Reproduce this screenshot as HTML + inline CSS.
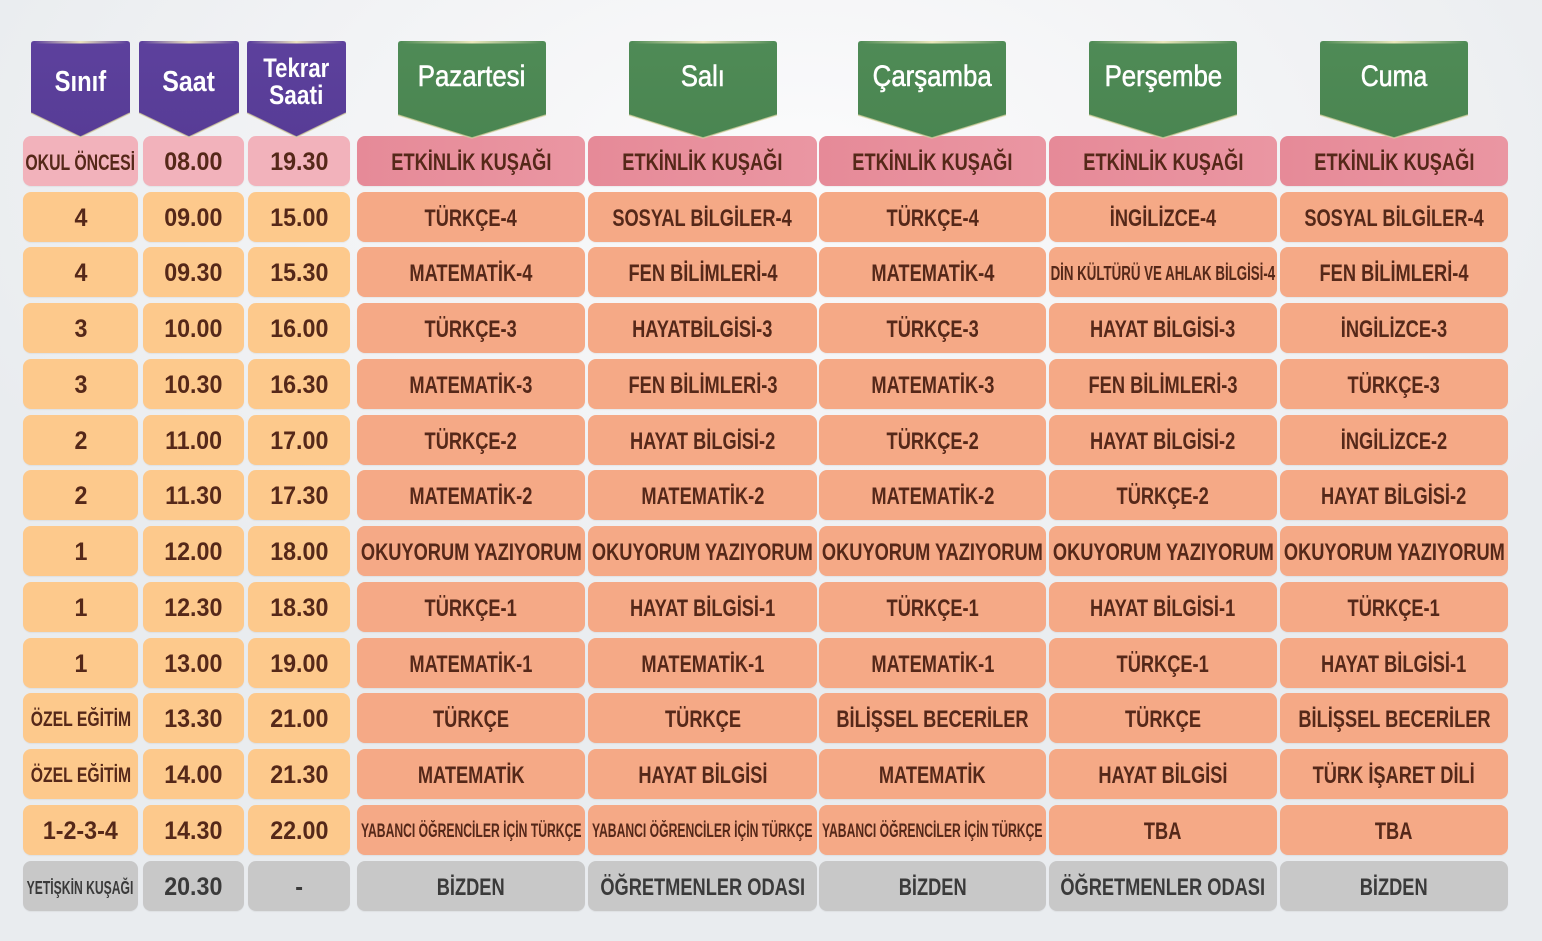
<!DOCTYPE html>
<html><head><meta charset="utf-8">
<style>
html,body{margin:0;padding:0;}
body{width:1542px;height:941px;position:relative;overflow:hidden;
background:radial-gradient(ellipse 900px 520px at 52% 18%,#fbfbfc 0%,#f2f3f5 55%,#e9ecef 100%);
font-family:"Liberation Sans",sans-serif;}
.r{position:absolute;left:0;width:1542px;height:50px;}
.r>div{position:absolute;top:0;height:50px;border-radius:8px;display:flex;align-items:center;justify-content:center;padding-top:3px;box-sizing:border-box;box-shadow:0 1px 1px rgba(0,0,0,.05);}
.c1{left:23px;width:115px}.c2{left:143px;width:101px}.c3{left:248px;width:102px}
.c4{left:357px;width:228px}.c5{left:588px;width:229px}.c6{left:819px;width:227px}
.c7{left:1049px;width:228px}.c8{left:1280px;width:228px}
.p .a{background:#f2b2bb}.p .d{background:linear-gradient(90deg,#e68a98,#ea96a2)}
.o .a{background:#fdc98c}.o .d{background:#f5a986}
.g .a,.g .d{background:#c8c8c8}
span{display:inline-block;white-space:nowrap;font-weight:bold;font-size:24px;line-height:24px;transform:scaleX(.76);color:#552819;}
.g span{color:#3a3a3a}
span.n{font-size:25px;line-height:25px;transform:scaleX(.93)}
span.ok{font-size:22px;line-height:22px;transform:scaleX(.72)}
span.oz{font-size:21px;line-height:21px;transform:scaleX(.75)}
span.ye{font-size:18px;line-height:18px;transform:scaleX(.675)}
span.din{font-size:20px;line-height:20px;transform:scaleX(.665)}
span.yb{font-size:19px;line-height:19px;transform:scaleX(.64)}
.h{position:absolute;color:#fff;text-align:center;}
.h b{display:inline-block;white-space:nowrap;}
</style></head><body>

<div class="r p" style="top:136px">
<div class="a c1"><span class="ok">OKUL ÖNCESİ</span></div>
<div class="a c2"><span class="n">08.00</span></div>
<div class="a c3"><span class="n">19.30</span></div>
<div class="d c4"><span>ETKİNLİK KUŞAĞI</span></div>
<div class="d c5"><span>ETKİNLİK KUŞAĞI</span></div>
<div class="d c6"><span>ETKİNLİK KUŞAĞI</span></div>
<div class="d c7"><span>ETKİNLİK KUŞAĞI</span></div>
<div class="d c8"><span>ETKİNLİK KUŞAĞI</span></div>
</div>

<div class="r o" style="top:192px">
<div class="a c1"><span class="n">4</span></div>
<div class="a c2"><span class="n">09.00</span></div>
<div class="a c3"><span class="n">15.00</span></div>
<div class="d c4"><span>TÜRKÇE-4</span></div>
<div class="d c5"><span>SOSYAL BİLGİLER-4</span></div>
<div class="d c6"><span>TÜRKÇE-4</span></div>
<div class="d c7"><span>İNGİLİZCE-4</span></div>
<div class="d c8"><span>SOSYAL BİLGİLER-4</span></div>
</div>

<div class="r o" style="top:247px">
<div class="a c1"><span class="n">4</span></div>
<div class="a c2"><span class="n">09.30</span></div>
<div class="a c3"><span class="n">15.30</span></div>
<div class="d c4"><span>MATEMATİK-4</span></div>
<div class="d c5"><span>FEN BİLİMLERİ-4</span></div>
<div class="d c6"><span>MATEMATİK-4</span></div>
<div class="d c7"><span class="din">DİN KÜLTÜRÜ VE AHLAK BİLGİSİ-4</span></div>
<div class="d c8"><span>FEN BİLİMLERİ-4</span></div>
</div>

<div class="r o" style="top:303px">
<div class="a c1"><span class="n">3</span></div>
<div class="a c2"><span class="n">10.00</span></div>
<div class="a c3"><span class="n">16.00</span></div>
<div class="d c4"><span>TÜRKÇE-3</span></div>
<div class="d c5"><span>HAYATBİLGİSİ-3</span></div>
<div class="d c6"><span>TÜRKÇE-3</span></div>
<div class="d c7"><span>HAYAT BİLGİSİ-3</span></div>
<div class="d c8"><span>İNGİLİZCE-3</span></div>
</div>

<div class="r o" style="top:359px">
<div class="a c1"><span class="n">3</span></div>
<div class="a c2"><span class="n">10.30</span></div>
<div class="a c3"><span class="n">16.30</span></div>
<div class="d c4"><span>MATEMATİK-3</span></div>
<div class="d c5"><span>FEN BİLİMLERİ-3</span></div>
<div class="d c6"><span>MATEMATİK-3</span></div>
<div class="d c7"><span>FEN BİLİMLERİ-3</span></div>
<div class="d c8"><span>TÜRKÇE-3</span></div>
</div>

<div class="r o" style="top:415px">
<div class="a c1"><span class="n">2</span></div>
<div class="a c2"><span class="n">11.00</span></div>
<div class="a c3"><span class="n">17.00</span></div>
<div class="d c4"><span>TÜRKÇE-2</span></div>
<div class="d c5"><span>HAYAT BİLGİSİ-2</span></div>
<div class="d c6"><span>TÜRKÇE-2</span></div>
<div class="d c7"><span>HAYAT BİLGİSİ-2</span></div>
<div class="d c8"><span>İNGİLİZCE-2</span></div>
</div>

<div class="r o" style="top:470px">
<div class="a c1"><span class="n">2</span></div>
<div class="a c2"><span class="n">11.30</span></div>
<div class="a c3"><span class="n">17.30</span></div>
<div class="d c4"><span>MATEMATİK-2</span></div>
<div class="d c5"><span>MATEMATİK-2</span></div>
<div class="d c6"><span>MATEMATİK-2</span></div>
<div class="d c7"><span>TÜRKÇE-2</span></div>
<div class="d c8"><span>HAYAT BİLGİSİ-2</span></div>
</div>

<div class="r o" style="top:526px">
<div class="a c1"><span class="n">1</span></div>
<div class="a c2"><span class="n">12.00</span></div>
<div class="a c3"><span class="n">18.00</span></div>
<div class="d c4"><span>OKUYORUM YAZIYORUM</span></div>
<div class="d c5"><span>OKUYORUM YAZIYORUM</span></div>
<div class="d c6"><span>OKUYORUM YAZIYORUM</span></div>
<div class="d c7"><span>OKUYORUM YAZIYORUM</span></div>
<div class="d c8"><span>OKUYORUM YAZIYORUM</span></div>
</div>

<div class="r o" style="top:582px">
<div class="a c1"><span class="n">1</span></div>
<div class="a c2"><span class="n">12.30</span></div>
<div class="a c3"><span class="n">18.30</span></div>
<div class="d c4"><span>TÜRKÇE-1</span></div>
<div class="d c5"><span>HAYAT BİLGİSİ-1</span></div>
<div class="d c6"><span>TÜRKÇE-1</span></div>
<div class="d c7"><span>HAYAT BİLGİSİ-1</span></div>
<div class="d c8"><span>TÜRKÇE-1</span></div>
</div>

<div class="r o" style="top:638px">
<div class="a c1"><span class="n">1</span></div>
<div class="a c2"><span class="n">13.00</span></div>
<div class="a c3"><span class="n">19.00</span></div>
<div class="d c4"><span>MATEMATİK-1</span></div>
<div class="d c5"><span>MATEMATİK-1</span></div>
<div class="d c6"><span>MATEMATİK-1</span></div>
<div class="d c7"><span>TÜRKÇE-1</span></div>
<div class="d c8"><span>HAYAT BİLGİSİ-1</span></div>
</div>

<div class="r o" style="top:693px">
<div class="a c1"><span class="oz">ÖZEL EĞİTİM</span></div>
<div class="a c2"><span class="n">13.30</span></div>
<div class="a c3"><span class="n">21.00</span></div>
<div class="d c4"><span>TÜRKÇE</span></div>
<div class="d c5"><span>TÜRKÇE</span></div>
<div class="d c6"><span>BİLİŞSEL BECERİLER</span></div>
<div class="d c7"><span>TÜRKÇE</span></div>
<div class="d c8"><span>BİLİŞSEL BECERİLER</span></div>
</div>

<div class="r o" style="top:749px">
<div class="a c1"><span class="oz">ÖZEL EĞİTİM</span></div>
<div class="a c2"><span class="n">14.00</span></div>
<div class="a c3"><span class="n">21.30</span></div>
<div class="d c4"><span>MATEMATİK</span></div>
<div class="d c5"><span>HAYAT BİLGİSİ</span></div>
<div class="d c6"><span>MATEMATİK</span></div>
<div class="d c7"><span>HAYAT BİLGİSİ</span></div>
<div class="d c8"><span>TÜRK İŞARET DİLİ</span></div>
</div>

<div class="r o" style="top:805px">
<div class="a c1"><span class="n">1-2-3-4</span></div>
<div class="a c2"><span class="n">14.30</span></div>
<div class="a c3"><span class="n">22.00</span></div>
<div class="d c4"><span class="yb">YABANCI ÖĞRENCİLER İÇİN TÜRKÇE</span></div>
<div class="d c5"><span class="yb">YABANCI ÖĞRENCİLER İÇİN TÜRKÇE</span></div>
<div class="d c6"><span class="yb">YABANCI ÖĞRENCİLER İÇİN TÜRKÇE</span></div>
<div class="d c7"><span>TBA</span></div>
<div class="d c8"><span>TBA</span></div>
</div>

<div class="r g" style="top:861px">
<div class="a c1"><span class="ye">YETİŞKİN KUŞAĞI</span></div>
<div class="a c2"><span class="n">20.30</span></div>
<div class="a c3"><span class="n">-</span></div>
<div class="d c4"><span>BİZDEN</span></div>
<div class="d c5"><span>ÖĞRETMENLER ODASI</span></div>
<div class="d c6"><span>BİZDEN</span></div>
<div class="d c7"><span>ÖĞRETMENLER ODASI</span></div>
<div class="d c8"><span>BİZDEN</span></div>
</div>

<svg width="1542" height="941" style="position:absolute;left:0;top:0" xmlns="http://www.w3.org/2000/svg">
<defs>
<linearGradient id="gold" x1="0" y1="0" x2="1" y2="0">
<stop offset="0" stop-color="#f3ecc0" stop-opacity="0"/>
<stop offset="0.5" stop-color="#f3ecc0" stop-opacity="0.95"/>
<stop offset="1" stop-color="#f3ecc0" stop-opacity="0"/>
</linearGradient>
<linearGradient id="pur" x1="0" y1="0" x2="0" y2="1">
<stop offset="0" stop-color="#5d419d"/><stop offset="1" stop-color="#573c96"/>
</linearGradient>
<linearGradient id="grn" x1="0" y1="0" x2="0" y2="1">
<stop offset="0" stop-color="#4f8b56"/><stop offset="1" stop-color="#4a8551"/>
</linearGradient>
</defs>
<g fill="url(#pur)">
<path d="M31,44 Q31,41 34,41 L127,41 Q130,41 130,44 L130,113 L80.5,137 L31,113 Z"/>
<path d="M139,44 Q139,41 142,41 L236,41 Q239,41 239,44 L239,113 L189,137 L139,113 Z"/>
<path d="M247,44 Q247,41 250,41 L343,41 Q346,41 346,44 L346,113 L296.5,137 L247,113 Z"/>
</g>
<g fill="url(#grn)">
<path d="M398,44 Q398,41 401,41 L543,41 Q546,41 546,44 L546,115 L472,138 L398,115 Z"/>
<path d="M629,44 Q629,41 632,41 L774,41 Q777,41 777,44 L777,115 L703,138 L629,115 Z"/>
<path d="M858,44 Q858,41 861,41 L1003,41 Q1006,41 1006,44 L1006,115 L932,138 L858,115 Z"/>
<path d="M1089,44 Q1089,41 1092,41 L1234,41 Q1237,41 1237,44 L1237,115 L1163,138 L1089,115 Z"/>
<path d="M1320,44 Q1320,41 1323,41 L1465,41 Q1468,41 1468,44 L1468,115 L1394,138 L1320,115 Z"/>
</g>
<g fill="url(#gold)">
<rect x="34" y="41" width="93" height="2.5"/>
<rect x="142" y="41" width="94" height="2.5"/>
<rect x="250" y="41" width="93" height="2.5"/>
<rect x="401" y="41" width="142" height="2.5"/>
<rect x="632" y="41" width="142" height="2.5"/>
<rect x="861" y="41" width="142" height="2.5"/>
<rect x="1092" y="41" width="142" height="2.5"/>
<rect x="1323" y="41" width="142" height="2.5"/>
</g>
<g fill="none" stroke="#d9d3a0" stroke-width="1.5" stroke-opacity="0.7">
<polyline points="31,113 80.5,137 130,113"/>
<polyline points="139,113 189,137 239,113"/>
<polyline points="247,113 296.5,137 346,113"/>
<polyline points="398,115 472,138 546,115"/>
<polyline points="629,115 703,138 777,115"/>
<polyline points="858,115 932,138 1006,115"/>
<polyline points="1089,115 1163,138 1237,115"/>
<polyline points="1320,115 1394,138 1468,115"/>
</g>
</svg>

<div class="h" style="left:31px;width:99px;top:68px;line-height:29px;font-size:29px;"><b style="transform:scaleX(.82)">Sınıf</b></div>
<div class="h" style="left:139px;width:100px;top:68px;line-height:29px;font-size:29px;"><b style="transform:scaleX(.86)">Saat</b></div>
<div class="h" style="left:247px;width:99px;top:55px;line-height:27px;font-size:27px;"><b style="transform:scaleX(.82)">Tekrar</b><br><b style="transform:scaleX(.84)">Saati</b></div>

<div class="h" style="left:398px;width:148px;top:62px;line-height:30px;font-size:30px;"><b style="font-weight:normal;-webkit-text-stroke:.6px #fff;transform:scaleX(.86)">Pazartesi</b></div>
<div class="h" style="left:629px;width:148px;top:62px;line-height:30px;font-size:30px;"><b style="font-weight:normal;-webkit-text-stroke:.6px #fff;transform:scaleX(.85)">Salı</b></div>
<div class="h" style="left:858px;width:148px;top:62px;line-height:30px;font-size:30px;"><b style="font-weight:normal;-webkit-text-stroke:.6px #fff;transform:scaleX(.86)">Çarşamba</b></div>
<div class="h" style="left:1089px;width:148px;top:62px;line-height:30px;font-size:30px;"><b style="font-weight:normal;-webkit-text-stroke:.6px #fff;transform:scaleX(.86)">Perşembe</b></div>
<div class="h" style="left:1320px;width:148px;top:62px;line-height:30px;font-size:30px;"><b style="font-weight:normal;-webkit-text-stroke:.6px #fff;transform:scaleX(.83)">Cuma</b></div>

</body></html>
